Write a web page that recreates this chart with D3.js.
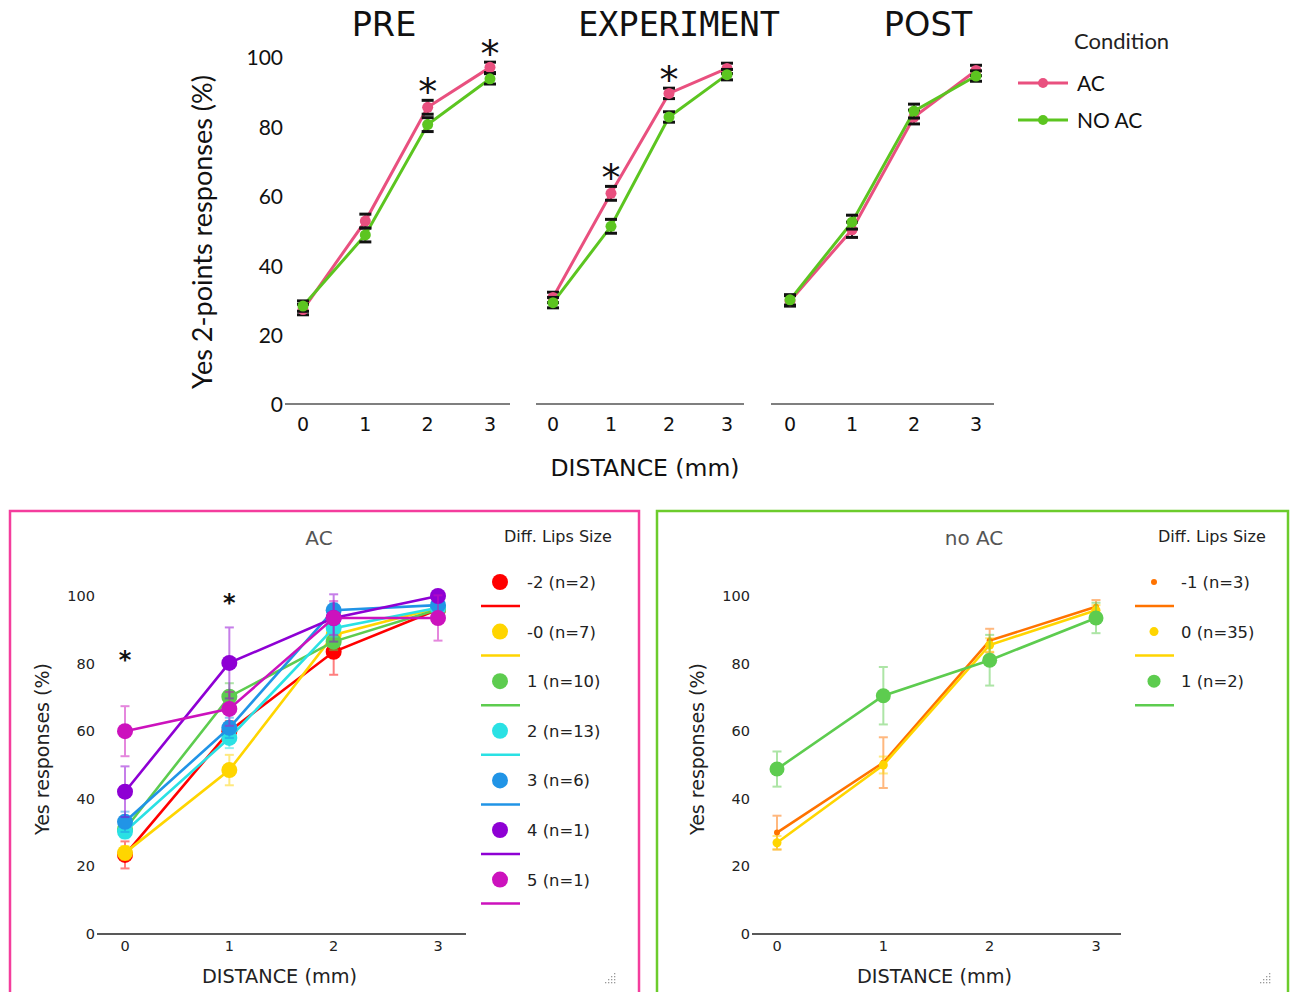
<!DOCTYPE html>
<html>
<head>
<meta charset="utf-8">
<title>Yes 2-points responses</title>
<style>
  body { margin: 0; background: #fff; }
  svg { display: block; }
</style>
</head>
<body>
<script src="https://cdn.jsdelivr.net/npm/d3@7"></script>
<script>
// ---- data ----
var distances = [0, 1, 2, 3];
var phases = ["PRE", "EXPERIMENT", "POST"];
var conditions = ["AC", "NO AC"];
var topYTicks = [0, 20, 40, 60, 80, 100];
// rows: PRE, EXPERIMENT, POST
var acMeans = [[27.5, 53, 85.8, 97.3], [31, 61, 89.8, 97], [30, 50.5, 83, 96.4]];
var acErr = [[1.5, 2, 2, 1.5], [1.5, 2, 1.5, 1.5], [1.5, 2.2, 2, 1.5]];
var noAcMeans = [[28.5, 49, 80.8, 94], [29.5, 51.5, 83, 95.2], [30.3, 52.7, 84.7, 94.8]];
var noAcErr = [[1.5, 2, 2, 1.5], [1.5, 2, 1.5, 1.5], [1.5, 2, 2, 1.5]];
var topStars = [[2, 3], [1, 2], []];

var acGroups = ["-2 (n=2)", "-0 (n=7)", "1 (n=10)", "2 (n=13)", "3 (n=6)", "4 (n=1)", "5 (n=1)"];
var acGroupMeans = [
  [23.4, 60, 83.5, 96],
  [24, 48.5, 88.5, 96.5],
  [31, 70.2, 86.5, 96],
  [30.3, 58, 90.5, 96.5],
  [33.2, 61, 95.8, 97.3],
  [42.1, 80.2, 93.5, 100],
  [60, 66.6, 93.5, 93.5]
];
var acGroupErr = [
  [4, 3, 6.8, 1.5],
  [2, 4.5, 2, 1.5],
  [2, 4, 2.5, 1.5],
  [2, 3, 2.5, 1.5],
  [3, 3, 2, 1.5],
  [7.5, 10.5, 7, 0],
  [7.4, 5, 5, 6.7]
];
var acStars = [0, 1];
var acStarLevels = [82.5, 99.4];

var noAcGroups = ["-1 (n=3)", "0 (n=35)", "1 (n=2)"];
var noAcGroupMeans = [
  [30, 50.7, 86.8, 96.8],
  [27, 50, 85.5, 95.8],
  [48.8, 70.5, 81, 93.5]
];
var noAcGroupErr = [
  [5, 7.5, 3.5, 2],
  [2, 2.5, 2, 1.5],
  [5.2, 8.5, 7.5, 4.5]
];
var bottomYTicks = [0, 20, 40, 60, 80, 100];

// ---- styles ----
var condColors = ["#e9507f", "#5cc520"];
var acColors = ["#ff0000", "#ffd500", "#5dcc4f", "#2ae1e4", "#2194e6", "#8e00d4", "#cc12bd"];
var noAcColors = ["#ff7300", "#ffd500", "#5dcc4f"];
var noAcDotR = [3, 4.5, 7.5];

var svg = d3.select("body").append("svg")
  .attr("width", 1293)
  .attr("height", 992);

// ================= top chart =================
var yTop = d3.scaleLinear().domain([0, 100]).range([405, 58]);
var topPanels = [
  { x0: 303, x1: 490, line: [285, 510], title: 384, font: "DejaVu Sans" },
  { x0: 553, x1: 727, line: [536, 744], title: 679, font: "DejaVu Sans Mono" },
  { x0: 790, x1: 976, line: [771, 994], title: 928, font: "DejaVu Sans" }
];

svg.append("g").selectAll("text")
  .data(topYTicks).enter().append("text")
  .attr("x", 283)
  .attr("y", function (d) { return yTop(d); })
  .attr("dy", "0.35em")
  .attr("text-anchor", "end")
  .style("font-family", "Lato")
  .style("font-size", "21px")
  .style("fill", "#111")
  .text(function (d) { return d; });

svg.append("text")
  .attr("transform", "translate(212,232) rotate(-90)")
  .attr("text-anchor", "middle")
  .style("font-family", "Lato")
  .style("font-size", "27px")
  .style("fill", "#111")
  .text("Yes 2-points responses (%)");

svg.append("text")
  .attr("x", 645).attr("y", 476)
  .attr("text-anchor", "middle")
  .style("font-family", "DejaVu Sans")
  .style("font-size", "23.5px")
  .style("fill", "#111")
  .text("DISTANCE (mm)");

topPanels.forEach(function (p, pi) {
  var x = d3.scaleLinear().domain([0, 3]).range([p.x0, p.x1]);
  var g = svg.append("g");

  g.append("line")
    .attr("x1", p.line[0]).attr("x2", p.line[1])
    .attr("y1", 404).attr("y2", 404)
    .attr("stroke", "#555").attr("stroke-width", 1.5);

  g.selectAll(".xt").data(distances).enter().append("text")
    .attr("x", function (d) { return x(d); })
    .attr("y", 431)
    .attr("text-anchor", "middle")
    .style("font-family", "DejaVu Sans")
    .style("font-size", "19px")
    .style("fill", "#111")
    .text(function (d) { return d; });

  g.append("text")
    .attr("x", p.title).attr("y", 36)
    .attr("text-anchor", "middle")
    .style("font-family", p.font)
    .style("font-size", "33.5px")
    .style("fill", "#111")
    .text(phases[pi]);

  var series = [
    { means: acMeans[pi], err: acErr[pi], color: condColors[0] },
    { means: noAcMeans[pi], err: noAcErr[pi], color: condColors[1] }
  ];
  var line = d3.line()
    .x(function (d, i) { return x(distances[i]); })
    .y(function (d) { return yTop(d); });

  series.forEach(function (s) {
    g.append("path")
      .datum(s.means)
      .attr("d", line)
      .attr("fill", "none")
      .attr("stroke", s.color)
      .attr("stroke-width", 3);
    var eb = g.append("g").selectAll("g").data(s.means).enter().append("g");
    eb.append("line")
      .attr("x1", function (d, i) { return x(distances[i]); })
      .attr("x2", function (d, i) { return x(distances[i]); })
      .attr("y1", function (d, i) { return yTop(d - s.err[i]); })
      .attr("y2", function (d, i) { return yTop(d + s.err[i]); })
      .attr("stroke", "#111").attr("stroke-width", 2);
    [-1, 1].forEach(function (sg) {
      eb.append("line")
        .attr("x1", function (d, i) { return x(distances[i]) - 6; })
        .attr("x2", function (d, i) { return x(distances[i]) + 6; })
        .attr("y1", function (d, i) { return yTop(d + sg * s.err[i]); })
        .attr("y2", function (d, i) { return yTop(d + sg * s.err[i]); })
        .attr("stroke", "#111").attr("stroke-width", 3);
    });
    g.append("g").selectAll("circle").data(s.means).enter().append("circle")
      .attr("cx", function (d, i) { return x(distances[i]); })
      .attr("cy", function (d) { return yTop(d); })
      .attr("r", 5.5)
      .attr("fill", s.color);
  });

  g.selectAll(".star").data(topStars[pi]).enter().append("text")
    .attr("x", function (d) { return x(d); })
    .attr("y", function (d) { return yTop(acMeans[pi][d] + acErr[pi][d] + 5.5); })
    .attr("dy", "0.62em")
    .attr("text-anchor", "middle")
    .style("font-family", "DejaVu Sans")
    .style("font-size", "38px")
    .style("fill", "#111")
    .text("*");
});

// top legend
svg.append("text")
  .attr("x", 1074).attr("y", 49)
  .style("font-family", "Lato")
  .style("font-size", "22px")
  .style("fill", "#222")
  .text("Condition");
var tl = svg.append("g").selectAll("g").data(conditions).enter().append("g")
  .attr("transform", function (d, i) { return "translate(0," + (83 + i * 37) + ")"; });
tl.append("line")
  .attr("x1", 1018).attr("x2", 1068)
  .attr("stroke", function (d, i) { return condColors[i]; })
  .attr("stroke-width", 3);
tl.append("circle")
  .attr("cx", 1043).attr("r", 5)
  .attr("fill", function (d, i) { return condColors[i]; });
tl.append("text")
  .attr("x", 1077).attr("dy", "0.38em")
  .style("font-family", "Lato")
  .style("font-size", "21px")
  .style("fill", "#111")
  .text(function (d) { return d; });

// ================= bottom panels =================
var yBot = d3.scaleLinear().domain([0, 100]).range([934, 596]);

function drawPanel(opt) {
  var g = svg.append("g");
  var x = d3.scaleLinear().domain([0, 3]).range(opt.xr);

  g.append("rect")
    .attr("x", opt.box[0]).attr("y", 511)
    .attr("width", opt.box[1]).attr("height", 495)
    .attr("fill", "none")
    .attr("stroke", opt.border).attr("stroke-width", 2.5);

  g.append("line")
    .attr("x1", opt.base[0]).attr("x2", opt.base[1])
    .attr("y1", 934).attr("y2", 934)
    .attr("stroke", "#222").attr("stroke-width", 1.3);

  g.selectAll(".yt").data(bottomYTicks).enter().append("text")
    .attr("x", opt.base[0] - 2)
    .attr("y", function (d) { return yBot(d); })
    .attr("dy", "0.35em")
    .attr("text-anchor", "end")
    .style("font-family", "DejaVu Sans")
    .style("font-size", "14.5px")
    .style("fill", "#222")
    .text(function (d) { return d; });

  g.selectAll(".xt").data(distances).enter().append("text")
    .attr("x", function (d) { return x(d); })
    .attr("y", 951)
    .attr("text-anchor", "middle")
    .style("font-family", "DejaVu Sans")
    .style("font-size", "14.5px")
    .style("fill", "#222")
    .text(function (d) { return d; });

  g.append("text")
    .attr("x", (opt.base[0] + opt.base[1]) / 2 - 2).attr("y", 983)
    .attr("text-anchor", "middle")
    .style("font-family", "DejaVu Sans")
    .style("font-size", "19.3px")
    .style("fill", "#222")
    .text("DISTANCE (mm)");

  g.append("text")
    .attr("transform", "translate(" + (opt.base[0] - 48) + ",749) rotate(-90)")
    .attr("text-anchor", "middle")
    .style("font-family", "DejaVu Sans")
    .style("font-size", "19px")
    .style("fill", "#222")
    .text("Yes responses (%)");

  g.append("text")
    .attr("x", opt.titleX).attr("y", 545)
    .attr("text-anchor", "middle")
    .style("font-family", "DejaVu Sans")
    .style("font-size", "20px")
    .style("fill", "#555")
    .text(opt.title);

  var line = d3.line()
    .x(function (d, i) { return x(distances[i]); })
    .y(function (d) { return yBot(d); });

  opt.means.forEach(function (m, si) {
    var c = opt.colors[si];
    var e = opt.err[si];
    g.append("path").datum(m)
      .attr("d", line)
      .attr("fill", "none")
      .attr("stroke", c)
      .attr("stroke-width", 2.6);
    var eb = g.append("g").attr("opacity", 0.5)
      .selectAll("g").data(m).enter().append("g");
    eb.append("line")
      .attr("x1", function (d, i) { return x(distances[i]); })
      .attr("x2", function (d, i) { return x(distances[i]); })
      .attr("y1", function (d, i) { return yBot(d - e[i]); })
      .attr("y2", function (d, i) { return yBot(d + e[i]); })
      .attr("stroke", c).attr("stroke-width", 2);
    [-1, 1].forEach(function (sg) {
      eb.append("line")
        .attr("x1", function (d, i) { return x(distances[i]) - 4.5; })
        .attr("x2", function (d, i) { return x(distances[i]) + 4.5; })
        .attr("y1", function (d, i) { return yBot(d + sg * e[i]); })
        .attr("y2", function (d, i) { return yBot(d + sg * e[i]); })
        .attr("stroke", c).attr("stroke-width", 2);
    });
    g.append("g").selectAll("circle").data(m).enter().append("circle")
      .attr("cx", function (d, i) { return x(distances[i]); })
      .attr("cy", function (d) { return yBot(d); })
      .attr("r", opt.dotR[si])
      .attr("fill", c);
  });

  g.selectAll(".star").data(opt.stars).enter().append("text")
    .attr("x", function (d) { return x(d); })
    .attr("y", function (d, i) { return yBot(opt.starLevels[i]); })
    .attr("dy", "0.55em")
    .attr("text-anchor", "middle")
    .style("font-family", "DejaVu Sans")
    .style("font-size", "24px")
    .style("font-weight", "bold")
    .style("fill", "#111")
    .text("*");

  // legend
  g.append("text")
    .attr("x", opt.leg.title).attr("y", 542)
    .style("font-family", "DejaVu Sans")
    .style("font-size", "16px")
    .style("fill", "#222")
    .text("Diff. Lips Size");
  var li = g.append("g").selectAll("g").data(opt.groups).enter().append("g")
    .attr("transform", function (d, i) { return "translate(0," + (582 + i * 49.6) + ")"; });
  li.append("circle")
    .attr("cx", opt.leg.dot)
    .attr("r", function (d, i) { return opt.legR[i]; })
    .attr("fill", function (d, i) { return opt.colors[i]; });
  li.append("line")
    .attr("x1", opt.leg.dot - 19).attr("x2", opt.leg.dot + 20)
    .attr("y1", 24).attr("y2", 24)
    .attr("stroke", function (d, i) { return opt.colors[i]; })
    .attr("stroke-width", 2.5);
  li.append("text")
    .attr("x", opt.leg.text).attr("dy", "0.36em")
    .style("font-family", "DejaVu Sans")
    .style("font-size", "16.4px")
    .style("fill", "#222")
    .text(function (d) { return d; });

  // resize grip
  var grip = [];
  for (var r = 0; r < 4; r++) {
    for (var k = 0; k <= r; k++) grip.push([opt.grip - k * 3, 973 + r * 3]);
  }
  g.append("g").selectAll("rect").data(grip).enter().append("rect")
    .attr("x", function (d) { return d[0]; })
    .attr("y", function (d) { return d[1]; })
    .attr("width", 1.3).attr("height", 1.3)
    .attr("fill", "#999");
}

drawPanel({
  box: [10, 629], border: "#f43d9d",
  xr: [125, 438], base: [97, 466], titleX: 319, title: "AC",
  means: acGroupMeans, err: acGroupErr, colors: acColors,
  dotR: [8, 8, 8, 8, 8, 8, 8], legR: [8, 8, 8, 8, 8, 8, 8],
  groups: acGroups, stars: acStars, starLevels: acStarLevels,
  leg: { title: 504, dot: 500, text: 527 }, grip: 614
});

drawPanel({
  box: [657, 631], border: "#6ccc2c",
  xr: [777, 1096], base: [752, 1121], titleX: 974, title: "no AC",
  means: noAcGroupMeans, err: noAcGroupErr, colors: noAcColors,
  dotR: noAcDotR, legR: [3, 4.5, 6.5],
  groups: noAcGroups, stars: [], starLevels: [],
  leg: { title: 1158, dot: 1154, text: 1181 }, grip: 1269
});
</script>
</body>
</html>
